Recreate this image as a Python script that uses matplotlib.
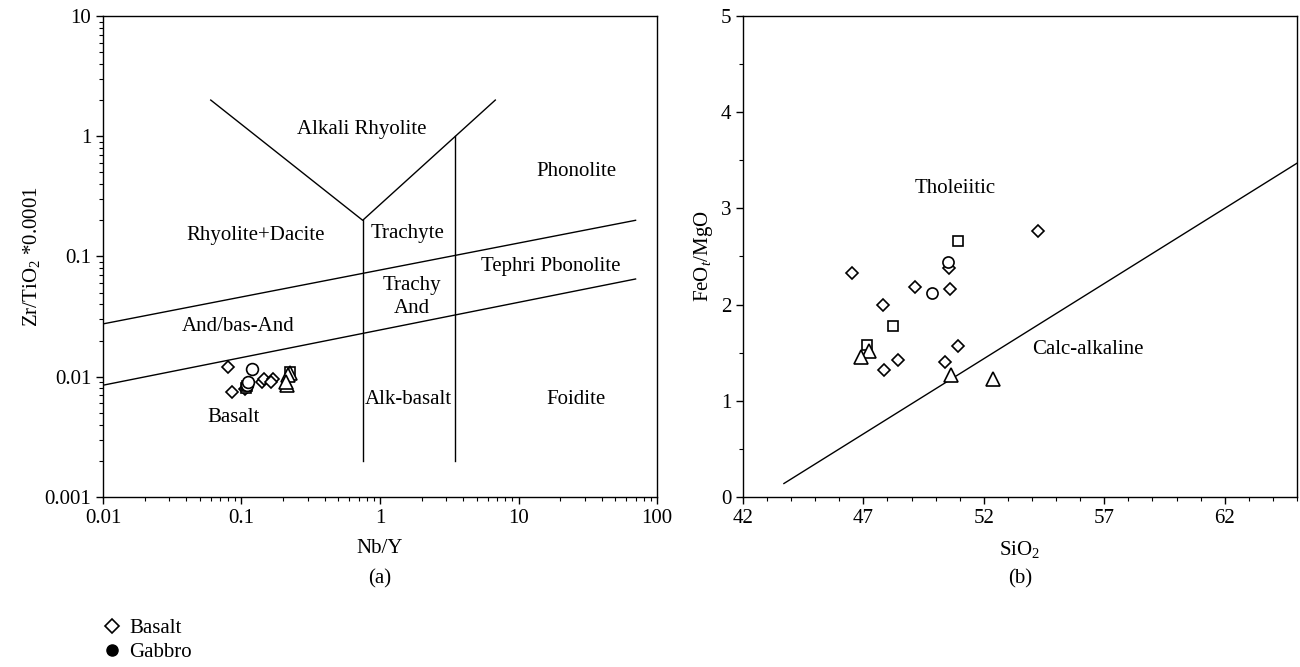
import matplotlib
matplotlib.use("Agg")
import matplotlib.pyplot as plt
from matplotlib.lines import Line2D

plt.rcParams['font.family'] = ['Liberation Serif', 'DejaVu Serif']
plt.rcParams['mathtext.fontset'] = 'custom'
plt.rcParams['mathtext.rm'] = 'Liberation Serif'
plt.rcParams['mathtext.it'] = 'Liberation Serif:italic'

# ---------------- Panel (a) data: Nb/Y vs Zr/TiO2*0.0001 ----------------
a_basalt_x = [0.080, 0.086, 0.106, 0.109, 0.140, 0.145, 0.168, 0.163]
a_basalt_y = [0.0120, 0.0075, 0.00785, 0.0082, 0.0091, 0.0096, 0.0096, 0.0091]
a_circle_x = [0.119, 0.109, 0.112]
a_circle_y = [0.0115, 0.0085, 0.0091]
a_square_x = [0.108, 0.110, 0.225]
a_square_y = [0.0080, 0.0083, 0.0110]
a_tri_x = [0.224, 0.215, 0.212, 0.210]
a_tri_y = [0.0108, 0.0103, 0.0085, 0.0090]

# field boundaries (x, y)
a_v_x = [0.06, 0.75, 6.8]
a_v_y = [2.0, 0.2, 2.0]
a_vert1_x = [0.75, 0.75]
a_vert1_y = [0.2, 0.002]
a_vert2_x = [3.47, 3.47]
a_vert2_y = [1.0, 0.002]
a_upper_x = [0.01, 70]
a_upper_y = [0.0275, 0.2]
a_lower_x = [0.01, 70]
a_lower_y = [0.0085, 0.065]

a_labels = ["Alkali Rhyolite", "Phonolite", "Rhyolite+Dacite", "Trachyte",
            "Tephri Pbonolite", "Trachy\nAnd", "And/bas-And", "Alk-basalt",
            "Foidite", "Basalt"]
a_label_x = [0.74, 26, 0.127, 1.59, 17, 1.69, 0.094, 1.59, 26, 0.088]
a_label_y = [1.13, 0.51, 0.15, 0.155, 0.083, 0.046, 0.0264, 0.0065, 0.0065, 0.0046]

# ---------------- Panel (b) data: SiO2 vs FeOt/MgO ----------------
b_basalt_x = [46.51, 54.25, 50.55, 49.14, 50.59, 47.82, 50.93, 48.42, 47.86, 50.38]
b_basalt_y = [2.325, 2.768, 2.377, 2.186, 2.159, 1.996, 1.573, 1.424, 1.320, 1.400]
b_circle_x = [50.52, 49.83]
b_circle_y = [2.446, 2.117]
b_square_x = [50.91, 48.24, 47.13]
b_square_y = [2.664, 1.781, 1.580]
b_tri_x = [47.23, 46.90, 50.62, 52.39]
b_tri_y = [1.521, 1.452, 1.268, 1.227]

b_line_x = [43.7, 65.0]
b_line_y = [0.14, 3.47]

b_labels = ["Tholeiitic", "Calc-alkaline"]
b_label_x = [50.8, 56.3]
b_label_y = [3.21, 1.53]

FS = 15

fig = plt.figure(figsize=(13, 6.67), dpi=100)
ax1 = fig.add_axes([0.0792, 0.2549, 0.4262, 0.7211])
ax2 = fig.add_axes([0.5715, 0.2549, 0.4262, 0.7211])

lk = dict(color='black', lw=1.0)
mk = dict(linestyle='none', markerfacecolor='white', markeredgecolor='black', markeredgewidth=1.2)

# Panel a
for xs, ys in [(a_v_x, a_v_y), (a_vert1_x, a_vert1_y), (a_vert2_x, a_vert2_y),
               (a_upper_x, a_upper_y), (a_lower_x, a_lower_y)]:
    ax1.plot(xs, ys, **lk)
ax1.plot(a_basalt_x, a_basalt_y, marker='D', markersize=6.5, **mk)
ax1.plot(a_square_x, a_square_y, marker='s', markersize=7.5, **mk)
ax1.plot(a_circle_x, a_circle_y, marker='o', markersize=8.5, **mk)
ax1.plot(a_tri_x, a_tri_y, marker='^', markersize=9.5, **mk)
for t, x, y in zip(a_labels, a_label_x, a_label_y):
    ax1.text(x, y, t, ha='center', va='center', fontsize=FS, linespacing=1.25)
ax1.set_xscale('log')
ax1.set_yscale('log')
ax1.set_xlim(0.01, 100)
ax1.set_ylim(0.001, 10)
ax1.set_xticks([0.01, 0.1, 1, 10, 100])
ax1.set_xticklabels(['0.01', '0.1', '1', '10', '100'])
ax1.set_yticks([0.001, 0.01, 0.1, 1, 10])
ax1.set_yticklabels(['0.001', '0.01', '0.1', '1', '10'])
ax1.set_xlabel('Nb/Y', fontsize=FS, labelpad=8)
ax1.set_ylabel(r'Zr/TiO$_2$ *0.0001', fontsize=FS, labelpad=2)
ax1.text(0.5, -0.17, '(a)', transform=ax1.transAxes, ha='center', va='center', fontsize=FS)

# Panel b
ax2.plot(b_line_x, b_line_y, **lk)
ax2.plot(b_basalt_x, b_basalt_y, marker='D', markersize=6, **mk)
ax2.plot(b_square_x, b_square_y, marker='s', markersize=7.5, **mk)
ax2.plot(b_circle_x, b_circle_y, marker='o', markersize=8, **mk)
ax2.plot(b_tri_x, b_tri_y, marker='^', markersize=9.5, **mk)
for t, x, y in zip(b_labels, b_label_x, b_label_y):
    ax2.text(x, y, t, ha='center', va='center', fontsize=FS)
ax2.set_xlim(42, 65)
ax2.set_ylim(0, 5)
ax2.set_xticks([42, 47, 52, 57, 62])
ax2.set_xticks(range(42, 66), minor=True)
ax2.set_yticks([0, 1, 2, 3, 4, 5])
ax2.set_yticks([0.5, 1.5, 2.5, 3.5, 4.5], minor=True)
ax2.set_xlabel(r'SiO$_2$', fontsize=FS, labelpad=8)
ax2.set_ylabel(r'FeO$_t$/MgO', fontsize=FS, labelpad=4)
ax2.text(0.5, -0.17, '(b)', transform=ax2.transAxes, ha='center', va='center', fontsize=FS)

for ax in (ax1, ax2):
    for s in ax.spines.values():
        s.set_linewidth(1.0)
    ax.tick_params(which='major', direction='out', length=5, width=1, labelsize=FS)
    ax.tick_params(which='minor', direction='out', length=3, width=0.8)

handles = [Line2D([], [], marker='D', markersize=7, linestyle='none',
                  markerfacecolor='white', markeredgecolor='black', markeredgewidth=1.2),
           Line2D([], [], marker='o', markersize=8, linestyle='none',
                  markerfacecolor='black', markeredgecolor='black')]
fig.legend(handles, ['Basalt', 'Gabbro'], loc='upper left', bbox_to_anchor=(0.070, 0.088),
           frameon=False, fontsize=FS, handlelength=1.0, handletextpad=0.35,
           labelspacing=0.2, borderpad=0)

fig.savefig('out.png', dpi=100)
